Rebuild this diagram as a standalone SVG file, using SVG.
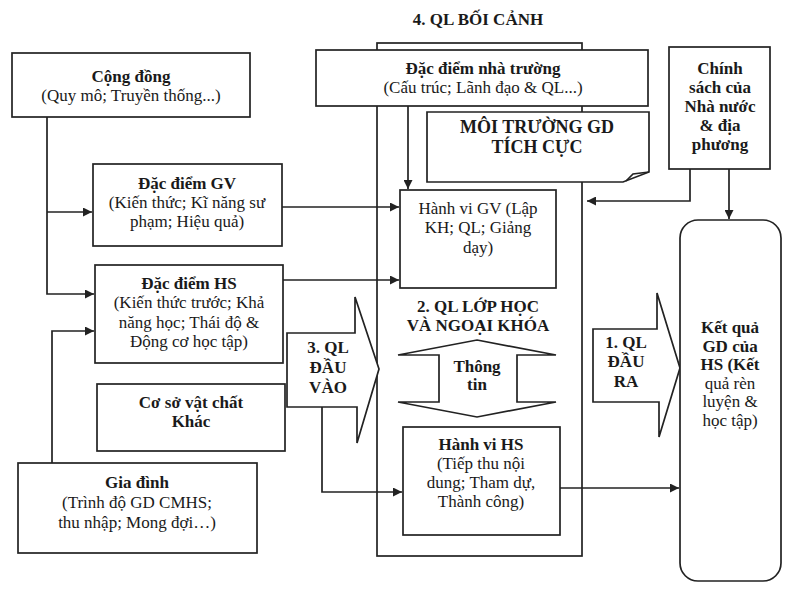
<svg xmlns="http://www.w3.org/2000/svg" width="789" height="591" viewBox="0 0 789 591">
<defs>
<style>
.box{fill:#fff;stroke:#222;stroke-width:1.7}
.ln{fill:none;stroke:#222;stroke-width:1.7}
text{font-family:"Liberation Serif","Times New Roman",serif;font-size:17px;fill:#1a1a1a;text-anchor:middle}
.b{font-weight:bold}
.big{font-size:18px;font-weight:bold}
</style>
<marker id="ah" viewBox="0 0 10 10" refX="10" refY="5" markerWidth="11" markerHeight="9" markerUnits="userSpaceOnUse" orient="auto">
<path d="M0,0 L10,5 L0,10 Z" fill="#222"/>
</marker>
</defs>
<rect width="789" height="591" fill="#fff"/>

<text class="b" x="478" y="25">4. QL BỐI CẢNH</text>

<g id="frame">
<rect class="box" x="377" y="43" width="205" height="513" fill="none"/>
</g>

<g id="connectors">
<path class="ln" d="M47,117 V294 H94" marker-end="url(#ah)"/>
<path class="ln" d="M47,212 H92" marker-end="url(#ah)"/>
<path class="ln" d="M52,463 V331 H94" marker-end="url(#ah)"/>
<path class="ln" d="M282,207 H399" marker-end="url(#ah)"/>
<path class="ln" d="M283,280 H399" marker-end="url(#ah)"/>
<path class="ln" d="M408,106 V189" marker-end="url(#ah)"/>
<path class="ln" d="M690,169 V201 H587" marker-end="url(#ah)"/>
<path class="ln" d="M729,169 V219" marker-end="url(#ah)"/>
<path class="ln" d="M322,407 V492 H402" marker-end="url(#ah)"/>
<path class="ln" d="M560,488 H679" marker-end="url(#ah)"/>
</g>

<g id="cong-dong">
<rect class="box" x="12" y="53" width="238" height="64"/>
<text class="b" x="131" y="82">Cộng đồng</text>
<text x="131" y="101">(Quy mô; Truyền thống...)</text>
</g>

<g id="dac-diem-gv">
<rect class="box" x="93" y="164" width="189" height="82"/>
<text class="b" x="187" y="189">Đặc điểm GV</text>
<text x="187" y="208">(Kiến thức; Kĩ năng sư</text>
<text x="187" y="227">phạm; Hiệu quả)</text>
</g>

<g id="dac-diem-hs">
<rect class="box" x="95" y="265" width="188" height="98"/>
<text class="b" x="189" y="289">Đặc điểm HS</text>
<text x="189" y="308">(Kiến thức trước; Khả</text>
<text x="189" y="328">năng học; Thái độ &amp;</text>
<text x="189" y="347">Động cơ học tập)</text>
</g>

<g id="co-so-vat-chat">
<rect class="box" x="97" y="384" width="188" height="67"/>
<text class="b" x="191" y="408">Cơ sở vật chất</text>
<text class="b" x="191" y="427">Khác</text>
</g>

<g id="gia-dinh">
<rect class="box" x="18" y="463" width="239" height="90"/>
<text class="b" x="137" y="488">Gia đình</text>
<text x="137" y="508">(Trình độ GD CMHS;</text>
<text x="137" y="528">thu nhập; Mong đợi…)</text>
</g>

<g id="dac-diem-nha-truong">
<rect class="box" x="316" y="50" width="332" height="56"/>
<text class="b" x="483" y="74">Đặc điểm nhà trường</text>
<text x="483" y="93">(Cấu trúc; Lãnh đạo &amp; QL...)</text>
</g>

<g id="moi-truong">
<path class="box" d="M427,112 H649 V172 L623,182 H427 Z"/>
<path class="ln" d="M649,172 L633,174 L626,181"/>
<text class="big" x="537" y="133">MÔI TRƯỜNG GD</text>
<text class="big" x="537" y="153">TÍCH CỰC</text>
</g>

<g id="chinh-sach">
<rect class="box" x="669" y="47" width="101" height="122"/>
<text class="b" x="720" y="74">Chính</text>
<text class="b" x="720" y="93">sách của</text>
<text class="b" x="720" y="112">Nhà nước</text>
<text class="b" x="720" y="131">&amp; địa</text>
<text class="b" x="720" y="150">phương</text>
</g>

<g id="hanh-vi-gv">
<rect class="box" x="400" y="190" width="156" height="98"/>
<text x="478" y="214">Hành vi GV (Lập</text>
<text x="478" y="233">KH; QL; Giảng</text>
<text x="478" y="253">dạy)</text>
</g>

<g id="ql-lop-hoc">
<text class="b" x="478" y="312">2. QL LỚP HỌC</text>
<text class="b" x="478" y="331">VÀ NGOẠI KHÓA</text>
</g>

<g id="thong-tin">
<path class="box" d="M477,340 L556,355 H517 V402 H556 L477,417 L398,402 H439 V355 H398 Z"/>
<text class="b" x="477" y="372">Thông</text>
<text class="b" x="477" y="390">tin</text>
</g>

<g id="ql-dau-vao">
<path class="box" d="M287,333 H355 V297 L379,369 L357,443 V407 H287 Z"/>
<text class="b" x="328" y="353">3. QL</text>
<text class="b" x="328" y="373">ĐẦU</text>
<text class="b" x="328" y="393">VÀO</text>
</g>

<g id="hanh-vi-hs">
<rect class="box" x="403" y="427" width="157" height="108"/>
<text class="b" x="481" y="450">Hành vi HS</text>
<text x="481" y="469">(Tiếp thu nội</text>
<text x="481" y="488">dung; Tham dự,</text>
<text x="481" y="507">Thành công)</text>
</g>

<g id="ql-dau-ra">
<path class="box" d="M593,329 H657 V293 L680,368 L659,437 V402 H593 Z"/>
<text class="b" x="626" y="348">1. QL</text>
<text class="b" x="626" y="367">ĐẦU</text>
<text class="b" x="626" y="387">RA</text>
</g>

<g id="ket-qua">
<rect class="box" x="680" y="220" width="101" height="361" rx="18"/>
<text class="b" x="730" y="333">Kết quả</text>
<text class="b" x="730" y="352">GD của</text>
<text class="b" x="730" y="370">HS (Kết</text>
<text x="730" y="389">quả rèn</text>
<text x="730" y="407">luyện &amp;</text>
<text x="730" y="426">học tập)</text>
</g>
</svg>
